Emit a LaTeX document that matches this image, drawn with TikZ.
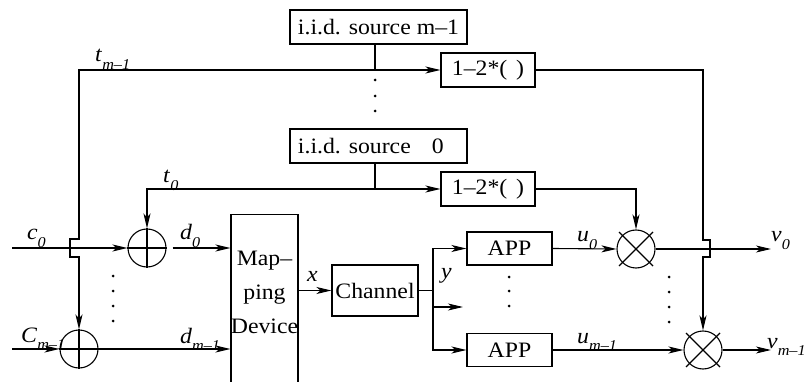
\documentclass[tikz,border=0pt]{standalone}
\usepackage{fontspec}
\setmainfont{Liberation Serif}[FakeStretch=1.08]
\usepackage{calc}
\usetikzlibrary{arrows.meta,calc}

% signal name with a lowered italic index
\newcommand{\sig}[2]{\textit{#1}\raisebox{-0.36em}{\fontsize{15}{15}\selectfont\textit{#2}}}

\tikzset{
  wire/.style={line width=1.1pt},
  arr/.style={wire, -{Stealth[length=15pt,width=7pt,inset=4pt]}},
  blk/.style={draw, line width=1.1pt, minimum height=34pt, inner sep=0pt},
  rnd/.style={circle, draw, line width=1.1pt, minimum size=38pt, inner sep=0pt},
  lab/.style={anchor=base west, inner sep=0pt},
}

\begin{document}
\begin{tikzpicture}[x=1pt, y=-1pt, font=\fontsize{22}{26}\selectfont]
    \useasboundingbox (0,0) rectangle (806,382);
    \clip (0,0) rectangle (806,382);

    % sources and mappers
    \node[blk, minimum width=177pt] (srcm) at (378.5,27) {i.i.d. source m–1};
    \node[blk, minimum width=177pt] (src0) at (378.5,146) {i.i.d. source \makebox[\widthof{m–1}]{0}};
    \node[blk, minimum width=94pt] (fm) at (488,70) {1–2*(\hspace{0.4em})};
    \node[blk, minimum width=94pt] (f0) at (488,189) {1–2*(\hspace{0.4em})};

    % scramblers
    \node[rnd] (xor0) at (147,248) {};
    \node[rnd] (xor1) at (79,349) {};
    \foreach \n in {xor0,xor1}
        \draw[wire] (\n.north) -- (\n.south) (\n.west) -- (\n.east);

    % modulator and channel
    \node[blk, anchor=north, minimum width=67pt, minimum height=206pt] (map) at (264.5,214) {};
    \node[align=center, font=\fontsize{22}{34}\selectfont] (maptxt) at (264.5,292) {Map–\\ping\\Device};
    \node[blk, minimum width=86pt, minimum height=51pt] (chan) at (375,290.5) {Channel};

    % detectors and descramblers
    \node[blk, minimum width=85pt, minimum height=33pt] (app0) at (509.5,248.5) {APP};
    \node[blk, minimum width=85pt, minimum height=33pt] (app1) at (509.5,350) {APP};
    \node[rnd] (mul0) at (636,249) {};
    \node[rnd] (mul1) at (703,350) {};
    \foreach \n in {mul0,mul1}
        \draw[wire] ($(\n)+(-17,-17)$) -- ($(\n)+(17,17)$)
                    ($(\n)+(-17,17)$) -- ($(\n)+(17,-17)$);

    \coordinate (jm) at (375,70);
    \coordinate (j0) at (375,189);
    \coordinate (c0) at (12,248);
    \coordinate (cm) at (12,349);
    \coordinate (ys) at (433,290.5);
    \coordinate (ymid) at (433,307);
    \coordinate (yend) at (463,307);
    \coordinate (v0) at (771,249);
    \coordinate (vm) at (771,350);

    % spreading sequences
    \draw[wire] (srcm.south -| jm) -- (jm);
    \draw[arr] (jm) -- (fm.west);
    \draw[arr] (jm) -- (79,70) -- (79,239) -- (70,239) -- (70,257) -- (79,257) -- (xor1.north);
    \draw[wire] (src0.south -| j0) -- (j0);
    \draw[arr] (j0) -- (f0.west);
    \draw[arr] (j0) -| (xor0.north);
    \draw[arr] (f0.east) -| (mul0.north);
    \draw[arr] (fm.east) -- (703,70) -- (703,240) -- (710,240) -- (710,257) -- (703,257) -- (mul1.north);

    % data path
    \draw[arr] (c0) -- (xor0.west);
    \draw[arr] (cm) -- (xor1.west);
    \draw[arr] ($(xor0.east)+(6,0)$) -- (map.west |- xor0);
    \draw[arr] (xor1.east) -- (map.west |- xor1);
    \draw[arr] (map.east |- chan) -- (chan.west);
    \draw[wire] (chan.east) -- (ys);
    \draw[arr] (ys) |- (app0.west);
    \draw[arr] (ys) |- (app1.west);
    \draw[arr] (ymid) -- (yend);
    \draw[arr] (app0.east) -- (mul0.west);
    \draw[arr] (app1.east) -- (mul1.west);
    \draw[arr] (mul0.east) -- (v0);
    \draw[arr] (mul1.east) -- (vm);

    % vertical dots
    \foreach \y in {80,96,111} \fill (375,\y) circle (1.5pt);
    \foreach \y in {276,291,306,321} \fill (113,\y) circle (1.5pt);
    \foreach \y in {277,291,306} \fill (509,\y) circle (1.5pt);
    \foreach \y in {277,292,307,322} \fill (669,\y) circle (1.5pt);

    % signal names
    \node[lab] (ltm) at (95,62) {\sig{t}{m–1}};
    \node[lab] (lt0) at (163,183) {\sig{t}{0}};
    \node[lab] (lc0) at (27,240) {\sig{c}{0}};
    \node[lab] (lcm) at (21,342) {\sig{C}{m–1}};
    \node[lab] (ld0) at (180,240) {\sig{d}{0}};
    \node[lab] (ldm) at (180,343) {\sig{d}{m–1}};
    \node[lab] (lx) at (307,281) {\textit{x}};
    \node[lab] (ly) at (441,279) {\textit{y}};
    \node[lab] (lu0) at (577,242) {\sig{u}{0}};
    \node[lab] (lum) at (577,343) {\sig{u}{m–1}};
    \node[lab] (lv0) at (771,242) {\sig{v}{0}};
    \node[lab] (lvm) at (767,348) {\sig{v}{m–1}};
\end{tikzpicture}
\end{document}
